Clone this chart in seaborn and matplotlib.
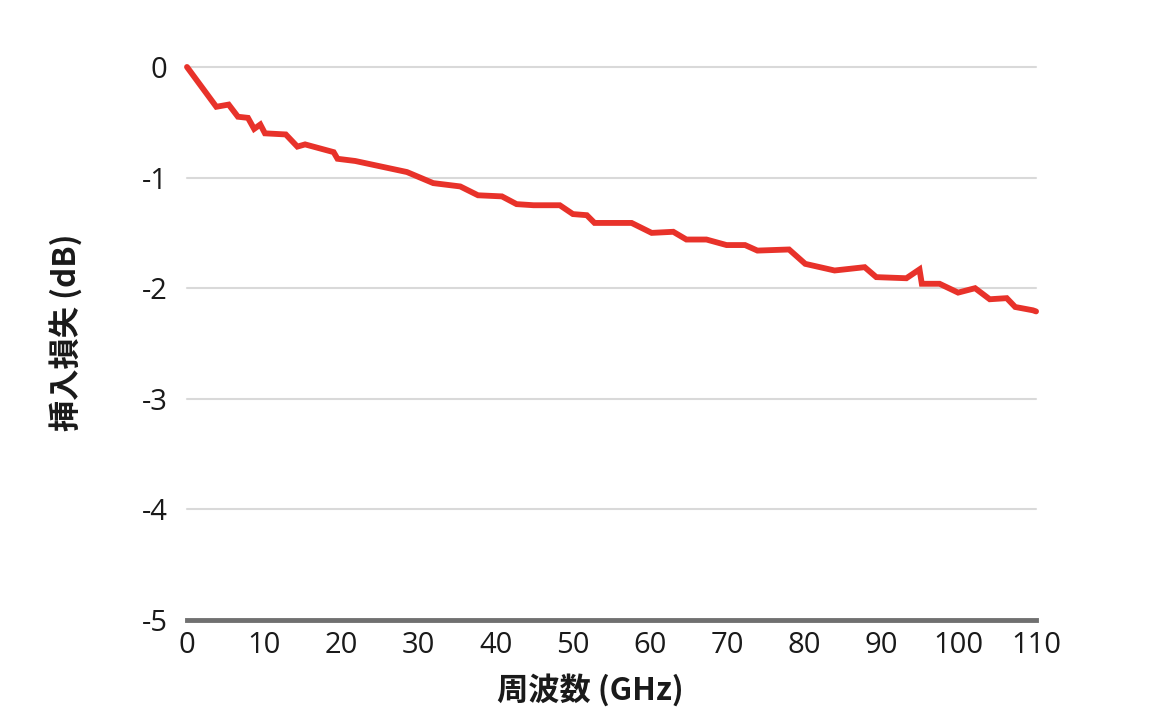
import matplotlib
matplotlib.use("Agg")
import matplotlib.pyplot as plt
import seaborn as sns
import pandas as pd

freq_ghz = [0.0, 3.8, 5.4, 6.6, 7.9, 8.7, 9.5, 10.1, 12.8, 14.3, 15.3, 19.0, 19.5, 21.8,
            28.5, 31.9, 35.4, 37.7, 40.8, 42.7, 44.9, 48.3, 50.0, 51.8, 52.8, 57.6,
            60.2, 63.0, 64.7, 67.3, 69.9, 72.3, 73.9, 78.0, 80.1, 83.9, 87.8, 89.3,
            93.2, 94.9, 95.2, 97.5, 99.9, 102.1, 104.0, 106.2, 107.3, 109.6, 110.0]
loss_db = [0.0, -0.36, -0.34, -0.45, -0.46, -0.56, -0.52, -0.60, -0.61, -0.72, -0.70, -0.77, -0.83, -0.85,
           -0.95, -1.05, -1.08, -1.16, -1.17, -1.24, -1.25, -1.25, -1.33, -1.34, -1.41, -1.41,
           -1.50, -1.49, -1.56, -1.56, -1.61, -1.61, -1.66, -1.65, -1.78, -1.84, -1.81, -1.90,
           -1.91, -1.83, -1.96, -1.96, -2.04, -2.00, -2.10, -2.09, -2.17, -2.20, -2.21]
x_ticks = [0, 10, 20, 30, 40, 50, 60, 70, 80, 90, 100, 110]
y_ticks = [0, -1, -2, -3, -4, -5]
x_label = "周波数 (GHz)"
y_label = "挿入損失 (dB)"

sns.set_theme(style="white")
plt.rcParams['font.family'] = ['Open Sans', 'Noto Sans CJK JP', 'DejaVu Sans']

df = pd.DataFrame({"freq": freq_ghz, "loss": loss_db})

fig = plt.figure(figsize=(11.76, 7.24), dpi=100)
ax = fig.add_axes([0.159, 0.1436, 0.722, 0.7639])

for yv in y_ticks[:-1]:
    ax.axhline(yv, color="#d9d9d9", lw=1.5, zorder=1, clip_on=False)

sns.lineplot(data=df, x="freq", y="loss", ax=ax, color="#e8322a", lw=4.2,
             zorder=3, clip_on=False, solid_joinstyle="miter")

ax.set_xlim(0, 110)
ax.set_ylim(-5, 0)
ax.set_xticks(x_ticks)
ax.set_xticklabels([str(v) for v in x_ticks])
ax.set_yticks(y_ticks)
ax.set_yticklabels([("-" + str(abs(v))) if v < 0 else str(v) for v in y_ticks])

for s in ["top", "right", "left"]:
    ax.spines[s].set_visible(False)
ax.spines["bottom"].set_color("#707070")
ax.spines["bottom"].set_linewidth(3.5)
ax.spines["bottom"].set_zorder(4)

ax.tick_params(axis="both", length=0, labelsize=21, colors="#1a1a1a")
ax.tick_params(axis="y", pad=14)
ax.tick_params(axis="x", pad=8)

ax.set_xlabel(x_label, fontsize=22.5, fontweight="bold", color="#1a1a1a",
              family=['Noto Sans CJK JP', 'DejaVu Sans'])
ax.set_ylabel(y_label, fontsize=22.5, fontweight="bold", color="#1a1a1a",
              family=['Noto Sans CJK JP', 'DejaVu Sans'])
ax.xaxis.set_label_coords(0.475, -0.098)
ax.yaxis.set_label_coords(-0.122, 0.52)

fig.savefig("out.png", dpi=100, facecolor="white")
